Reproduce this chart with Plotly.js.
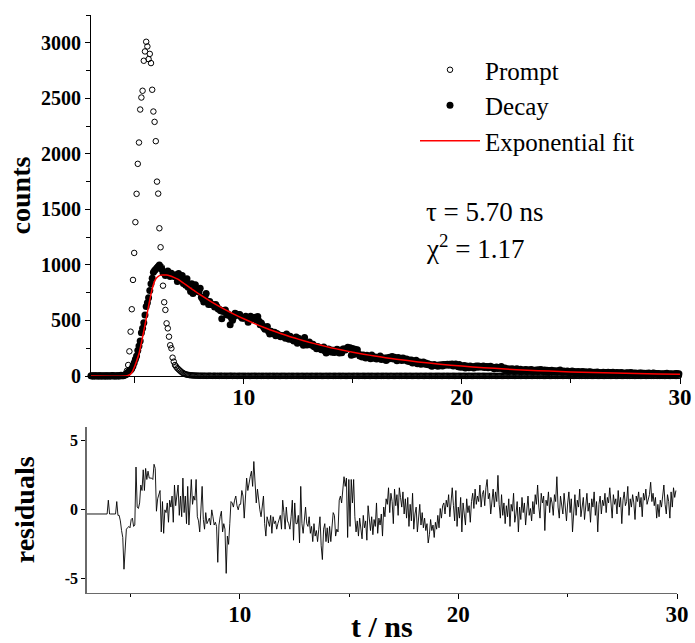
<!DOCTYPE html>
<html><head><meta charset="utf-8">
<script src="https://cdn.plot.ly/plotly-3.0.1.min.js"></script>
<style>html,body{margin:0;padding:0;background:#fff}</style>
</head><body><div id="chart" style="width:695px;height:643px"></div>
<script>
// channel grid of the TCSPC histogram
const t0 = 3.0, dt = 0.055;

const prompt = [
1,0,2,0,1,0,0,2,1,0,
1,0,0,2,0,1,0,1,0,2,
0,1,2,1,3,2,4,6,10,22,
48,99,222,399,601,865,1108,1385,1640,1910,
2102,2399,2507,2568,2838,2922,3009,2967,2853,2900,
2817,2577,2381,2288,2114,1750,1642,1330,1159,980,
813,664,595,474,429,354,277,249,165,129,
99,84,70,60,49,40,31,25,19,15,
12,10,8,7,6,5,4,4,3,3,
3,2,3,2,2,3,1,2,2,3,
2,1,2,3,1,2,2,1,3,2,
1,2,2,1,2,1,3,2,1,2,
2,1,1,2,2,1,2,1,2,1,
1,2,1,1,2,1,2,2,1,1,
2,1,1,2,1,1,2,1,1,2,
1,1,2,1,1,2,1,1,1,2,
1,2,1,1,1,2,1,1,2,1,
1,1,2,1,1,1,2,1,1,1,
2,1,1,1,2,1,1,1,2,1,
1,2,1,1,1,1,2,1,1,2,
1,1,1,2,1,1,1,2,1,1,
2,1,1,1,1,2,1,1,1,2,
1,1,2,1,1,1,1,2,1,1,
1,2,1,1,2,1,1,1,1,2,
1,1,1,2,1,1,2,1,1,1,
2,1,1,1,1,2,1,1,2,1,
1,1,2,1,1,1,2,1,1,1,
1,2,1,1,1,2,1,1,1,2,
1,1,1,2,1,1,1,1,2,1,
2,1,1,1,2,1,1,2,1,1,
1,1,2,1,1,1,1,2,1,1,
1,2,1,1,1,2,1,1,1,1,
2,1,1,2,1,1,1,2,1,1,
1,1,1,2,1,1,2,1,1,1,
1,2,1,1,1,1,2,1,1,2,
1,1,2,1,1,1,1,2,1,1,
2,1,1,1,2,1,1,1,1,2,
1,1,1,2,1,1,2,1,1,1,
1,2,1,1,1,2,1,1,2,1,
1,1,2,1,1,1,1,2,1,1,
2,1,1,1,2,1,1,1,2,1,
1,1,1,2,1,1,2,1,1,1,
1,2,1,1,1,2,1,1,1,2,
1,1,2,1,1,1,2,1,1,1,
2,1,1,1,1,2,1,1,2,1,
1,1,2,1,1,1,1,2,1,1,
1,2,1,1,2,1,1,1,2,1,
1,1,1,2,1,1,1,2,1,1,
2,1,1,1,2,1,1,1,1,2,1
];

const decay = [
2,0,1,3,0,2,1,0,2,1,
0,2,1,0,3,1,0,2,5,1,
1,3,0,2,1,6,2,3,8,12,
22,35,45,55,68,90,120,150,180,230,
270,315,390,430,480,550,625,660,705,770,
830,880,935,950,960,975,985,1000,975,960,
930,925,905,915,945,920,895,925,910,900,
894,911,850,922,873,890,904,833,867,816,
876,798,825,761,830,743,775,821,763,773,
756,789,709,694,666,713,742,670,644,671,
643,643,641,622,644,624,603,602,588,516,
581,590,594,551,561,545,461,522,501,533,
566,558,546,552,554,533,521,525,520,538,
523,483,517,538,513,521,526,530,501,536,
495,461,478,455,437,422,431,446,400,377,
403,393,381,393,363,383,369,370,354,358,
364,363,340,377,356,330,357,335,327,316,
332,351,294,340,310,307,315,276,347,294,
280,292,306,283,277,286,263,268,246,266,
250,253,237,250,262,224,206,239,244,219,
235,214,231,212,232,240,235,208,214,209,
243,244,235,246,259,247,254,187,248,194,
241,215,237,197,179,189,171,188,178,163,
186,171,176,156,188,168,160,172,153,165,
157,179,148,161,153,161,139,165,154,169,
162,176,152,168,158,138,166,151,160,139,
162,152,142,154,133,145,128,144,118,136,
121,141,111,123,127,106,116,125,108,117,
104,111,100,104,88,93,104,94,97,87,
98,92,101,91,104,96,104,105,96,105,
99,107,90,98,108,95,83,103,78,91,
82,95,71,90,81,74,90,80,84,73,
85,90,79,91,81,85,80,91,76,83,
85,75,84,88,77,79,65,76,80,68,
76,70,85,67,58,72,59,66,53,62,
56,65,50,61,57,66,49,54,60,43,
55,49,59,52,56,44,53,58,47,51,
43,53,46,56,50,59,47,42,53,48,
52,34,49,45,51,41,48,45,38,48,
45,55,41,35,45,41,36,45,38,32,
40,44,35,41,26,37,40,32,38,34,
41,30,35,37,28,35,38,30,34,26,
34,31,37,27,32,20,30,33,26,32,
30,33,26,32,29,34,27,23,31,27,
29,24,31,25,28,19,26,29,24,26,
31,20,26,23,27,23,18,26,24,27,
22,24,18,25,23,27,21,23,24,28,
22,23,19,22,15,20,15,20,18,21,
24,19,16,21,18,14,21,17,23,19,21
];

const residuals = [
-0.3,-0.3,-0.3,-0.3,-0.3,-0.3,-0.3,-0.3,-0.3,-0.3,
-0.3,-0.3,-0.3,-0.3,-0.3,-0.3,-0.3,-0.3,0.7,-0.3,
-0.3,-0.3,-0.3,-0.3,-0.3,0.6,-0.4,-0.4,-0.8,-1.5,
-2.0,-4.3,-2.5,-1.4,-1.3,-1.2,-1.3,-0.7,-0.6,-1.2,
-1.1,3.1,0.2,0.1,0.5,1.8,1.4,2.9,1.4,3.0,
2.2,2.8,2.3,2.3,2.3,2.2,3.3,3.0,-0.1,0.8,
1.2,1.4,-1.6,0.6,-1.7,0.0,-0.2,0.5,-0.9,0.7,
0.2,1.0,-0.9,1.8,0.3,1.1,1.8,-0.4,1.0,-0.5,
2.3,-0.2,1.0,-1.0,1.7,-1.1,0.3,2.2,0.4,1.0,
0.7,2.2,-0.5,-0.8,-1.6,0.4,1.7,-0.7,-1.4,-0.2,
-1.0,-0.8,-0.6,-1.1,0.0,-0.5,-1.1,-0.9,-1.2,-3.8,
-1.1,-0.5,-0.1,-1.6,-1.0,-1.4,-4.6,-1.9,-2.5,-1.0,
0.6,0.5,0.2,0.7,1.0,0.3,0.0,0.4,0.4,1.4,
1.0,-0.6,1.2,2.3,1.4,2.0,2.4,2.8,1.7,3.5,
1.9,0.5,1.5,0.6,0.0,-0.5,0.1,1.0,-1.0,-1.9,
-0.5,-0.8,-1.2,-0.4,-1.7,-0.5,-1.0,-0.8,-1.4,-1.0,
-0.6,-0.4,-1.4,0.7,-0.2,-1.4,0.2,-0.8,-1.0,-1.4,
-0.5,0.7,-2.2,0.5,-1.0,-1.0,-0.4,-2.4,1.7,-1.0,
-1.7,-0.8,0.2,-1.0,-1.2,-0.5,-1.7,-1.2,-2.3,-1.0,
-1.9,-1.5,-2.3,-1.4,-0.5,-2.6,-3.6,-1.4,-1.0,-2.3,
-1.3,-2.4,-1.2,-2.3,-0.8,-0.2,-0.4,-1.9,-1.4,-1.6,
0.7,1.0,0.5,1.4,2.4,1.7,2.3,-2.0,2.2,-1.2,
2.2,0.5,2.2,-0.5,-1.6,-0.8,-1.9,-0.6,-1.2,-2.1,
-0.4,-1.3,-0.8,-2.2,0.3,-1.0,-1.5,-0.5,-1.8,-0.7,
-1.2,0.5,-1.7,-0.6,-1.1,-0.3,-1.9,0.2,-0.5,0.8,
0.4,1.6,-0.2,1.2,0.6,-1.0,1.5,0.3,1.1,-0.4,
1.6,0.9,0.2,1.3,-0.3,0.8,-0.6,0.9,-1.2,0.4,
-0.8,1.2,-1.4,-0.3,0.2,-1.6,-0.5,0.4,-1.1,-0.2,
-1.3,-0.6,-1.5,-1.0,-2.4,-1.8,-0.7,-1.5,-1.1,-2.0,
-0.9,-1.4,-0.4,-1.3,0.1,-0.6,0.3,0.5,-0.3,0.7,
0.2,1.1,-0.5,0.4,1.6,0.3,-0.8,1.4,-1.2,0.2,
-0.6,0.9,-1.6,0.5,-0.4,-1.1,0.8,-0.2,0.3,-0.9,
0.6,1.2,0.1,1.5,0.4,1.0,0.6,1.8,0.2,1.1,
1.4,0.3,1.6,2.2,0.8,1.2,-0.3,0.9,1.5,0.2,
1.3,0.6,2.5,0.4,-0.6,1.1,-0.4,0.5,-1.0,0.3,
-0.5,0.8,-1.2,0.4,-0.1,1.2,-0.9,-0.3,0.6,-1.6,
0.2,-0.7,0.9,-0.2,0.5,-1.1,0.3,1.0,-0.4,0.1,
-0.8,0.6,-0.3,1.1,0.4,1.8,0.2,-0.6,1.2,0.5,
1.0,-1.5,0.7,0.3,1.3,-0.2,0.9,0.5,-0.4,1.1,
0.6,2.4,0.2,-0.6,1.0,0.4,-0.3,1.2,0.1,-0.8,
0.5,1.3,-0.2,0.8,-1.6,0.3,1.1,-0.4,0.7,0.2,
1.5,-0.5,0.4,0.9,-0.7,0.6,1.2,-0.1,0.5,-0.9,
0.8,0.2,1.3,-0.4,0.6,-1.6,0.4,1.0,-0.3,0.7,
0.3,1.2,-0.2,0.9,0.5,1.6,0.1,-0.6,1.1,0.4,
0.8,-0.3,1.4,0.2,0.9,-1.0,0.7,1.3,0.3,0.6,
1.7,-0.4,0.8,0.2,1.1,0.5,-0.7,1.0,0.6,1.3,
0.2,0.9,-0.5,1.2,0.7,1.5,0.4,0.8,1.1,2.0,
0.6,1.2,0.3,0.9,-0.6,0.4,-0.5,0.7,0.2,1.0,
1.8,0.4,-0.3,1.1,0.6,-0.6,1.3,0.2,1.6,0.9,1.4
];

const fitTime = [3.0,4.6,4.7,4.8,4.9,5.0,5.1,5.2,5.3,5.4,5.5,5.6,5.7,5.8,5.9,6.0,6.1,6.2,6.3,6.45,6.6,6.8,7.0,7.25,7.5,7.75,8.0,8.5,9.0,9.5,10.0,10.5,11.0,11.5,12.0,12.5,13.0,13.5,14.0,14.5,15.0,15.5,16.0,16.5,17.0,18.0,19.0,20.0,21.0,22.0,23.0,24.0,25.0,26.0,27.0,28.0,29.0,30.0];
const fitCounts = [0,0,4,15,40,85,140,200,290,385,485,590,690,780,845,882,900,908,910,909,903,888,870,835,800,766,732,670,614,562,515,472,432,396,362,332,304,279,255,234,214,196,180,165,151,127,106,89,75,63,52,44,37,31,26,22,18,15];

const labels = {prompt:'Prompt', decay:'Decay', fit:'Exponential fit', tau:'τ = 5.70 ns', chi:'χ<sup>2</sup> = 1.17', yTop:'counts', yBot:'residuals', x:'t / ns'};

const tDecay = decay.map((_, i) => t0 + i * dt);
const tPrompt = prompt.map((_, i) => t0 + i * dt);
const tRes = residuals.map((_, i) => t0 + i * dt);

const serif = 'Liberation Serif, Times New Roman, serif';
const W = 695, H = 643;

const traces = [
  {x: tDecay, y: decay, type:'scatter', mode:'markers', name: labels.decay, legendrank: 2,
   marker:{symbol:'circle', size:7, color:'#000'}, cliponaxis:false, xaxis:'x', yaxis:'y'},
  {x: tPrompt, y: prompt, type:'scatter', mode:'markers', name: labels.prompt, legendrank: 1,
   marker:{symbol:'circle-open', size:5.5, color:'#000', line:{width:1, color:'#000'}}, cliponaxis:false, xaxis:'x', yaxis:'y'},
  {x: fitTime, y: fitCounts, type:'scatter', mode:'lines', name: labels.fit, legendrank: 3,
   line:{color:'#ff0000', width:1.5, shape:'spline', smoothing:0.6}, xaxis:'x', yaxis:'y'},
  {x: tRes, y: residuals, type:'scatter', mode:'lines', showlegend:false,
   line:{color:'#000', width:0.9}, xaxis:'x2', yaxis:'y2'}
];

const layout = {
  width: W, height: H, margin:{l:0, r:0, t:0, b:0},
  paper_bgcolor:'#fff', plot_bgcolor:'rgba(0,0,0,0)',
  font:{family: serif, color:'#000'},
  showlegend: true,
  legend:{x: 415/W, y: 1 - 47/H, xanchor:'left', yanchor:'top', bgcolor:'rgba(0,0,0,0)',
          font:{family: serif, size: 25, color:'#000'}, itemwidth: 60, traceorder:'normal'},
  xaxis:{domain:[91/W, 680/W], range:[3,30], anchor:'y', showgrid:false, zeroline:false,
         showline:true, linecolor:'#000', linewidth:1,
         tickmode:'array', tickvals:[10,20,30], ticks:'outside', ticklen:7, tickwidth:1, tickcolor:'#000',
         minor:{tickmode:'array', tickvals:[5,15,25], ticks:'outside', ticklen:6, tickwidth:1, tickcolor:'#000'},
         tickfont:{family: serif, size: 23, color:'#000', weight:'bold'}, ticklabelstandoff: -7},
  yaxis:{domain:[1 - 376/H, 1 - 15/H], range:[0,3250], anchor:'x', showgrid:false, zeroline:false,
         showline:true, linecolor:'#000', linewidth:1,
         tickmode:'array', tickvals:[0,500,1000,1500,2000,2500,3000], ticks:'outside', ticklen:5, tickwidth:1, tickcolor:'#000',
         minor:{tickmode:'array', tickvals:[250,750,1250,1750,2250,2750,3250], ticks:'outside', ticklen:4, tickwidth:1, tickcolor:'#000'},
         tickfont:{family: serif, size: 20, color:'#000', weight:'bold'},
         title:{text: labels.yTop, font:{family: serif, size: 28, color:'#000', weight:'bold'}, standoff: 2}},
  xaxis2:{domain:[86.7/W, 677/W], range:[3,30], anchor:'y2', showgrid:false, zeroline:false,
         showline:true, linecolor:'#6a6a6a', linewidth:1.5,
         tickmode:'array', tickvals:[10,20,30], ticks:'outside', ticklen:5, tickwidth:1, tickcolor:'#000',
         minor:{tickmode:'array', tickvals:[5,15,25], ticks:'outside', ticklen:3, tickwidth:1, tickcolor:'#000'},
         tickfont:{family: serif, size: 23, color:'#000', weight:'bold'}, ticklabelstandoff: -5,
         title:{text: labels.x, font:{family: serif, size: 30, color:'#000', weight:'bold'}, standoff: 0}},
  yaxis2:{domain:[1 - 592.7/H, 1 - 427/H], range:[-6,6], anchor:'x2', showgrid:false, zeroline:false,
         showline:true, linecolor:'#6a6a6a', linewidth:1.5,
         tickmode:'array', tickvals:[-5,0,5], ticktext:['-5','0','5'], ticks:'outside', ticklen:4, tickwidth:1, tickcolor:'#000',
         tickfont:{family: serif, size: 16, color:'#000', weight:'bold'},
         title:{text: labels.yBot, font:{family: serif, size: 28, color:'#000', weight:'bold'}, standoff: 22}},
  annotations:[
    {xref:'paper', yref:'paper', x: 424/W, y: 1 - 212/H, xanchor:'left', yanchor:'middle', showarrow:false,
     text: labels.tau, font:{family: serif, size: 27, color:'#000'}},
    {xref:'paper', yref:'paper', x: 424/W, y: 1 - 247/H, xanchor:'left', yanchor:'middle', showarrow:false,
     text: labels.chi, font:{family: serif, size: 27, color:'#000'}}
  ]
};

Plotly.newPlot('chart', traces, layout, {displayModeBar:false, staticPlot:true});
</script>
</body></html>
